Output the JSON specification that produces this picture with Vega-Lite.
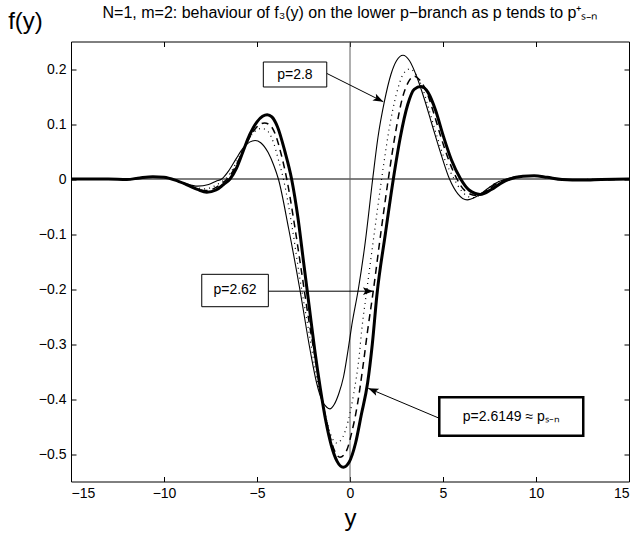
{
  "$schema": "https://vega.github.io/schema/vega-lite/v6.json",
  "autosize": "none",
  "width": 558,
  "height": 440,
  "padding": {"left": 71, "top": 41.5, "right": 13, "bottom": 59.5},
  "background": "white",
  "config": {
    "view": {"stroke": "black", "strokeWidth": 1},
    "font": "Liberation Sans",
    "axis": {"domainColor": "black", "tickColor": "black", "labelColor": "black", "labelFont": "Liberation Sans", "labelFontSize": 14, "grid": false, "tickSize": -5, "labelPadding": 10, "titleColor": "black", "titleFont": "Liberation Sans", "titleFontWeight": "normal"}
  },
  "title": {"text": "N=1, m=2: behaviour of f₃(y) on the lower p−branch as p tends to p⁺ₛ₋ₙ", "fontSize": 16, "fontWeight": "normal", "font": "Liberation Sans", "anchor": "middle", "offset": -11, "color": "black"},
  "datasets": {
    "thin": [
      {"x": -15, "y": 0}, {"x": -13, "y": 0}, {"x": -12, "y": 0}, {"x": -11.3, "y": 0.002}, {"x": -10.6, "y": 0.004}, {"x": -10, "y": 0.003}, {"x": -9.4, "y": -0.002}, {"x": -8.8, "y": -0.009}, {"x": -8.2, "y": -0.013}, {"x": -7.6, "y": -0.01}, {"x": -7.2, "y": -0.004}, {"x": -6.9, "y": 0}, {"x": -6.5, "y": 0.016}, {"x": -6.1, "y": 0.038}, {"x": -5.75, "y": 0.056}, {"x": -5.4, "y": 0.067}, {"x": -5.1, "y": 0.07}, {"x": -4.8, "y": 0.066}, {"x": -4.4, "y": 0.048}, {"x": -4.1, "y": 0.025}, {"x": -3.85, "y": 0}, {"x": -3.3, "y": -0.09}, {"x": -2.7, "y": -0.2}, {"x": -2.15, "y": -0.31}, {"x": -1.8, "y": -0.37}, {"x": -1.5, "y": -0.403}, {"x": -1.25, "y": -0.415}, {"x": -1.08, "y": -0.418}, {"x": -0.85, "y": -0.41}, {"x": -0.6, "y": -0.39}, {"x": -0.35, "y": -0.36}, {"x": -0.1, "y": -0.31}, {"x": 0.1, "y": -0.265}, {"x": 0.45, "y": -0.2}, {"x": 0.8, "y": -0.12}, {"x": 1.22, "y": 0}, {"x": 1.5, "y": 0.075}, {"x": 1.85, "y": 0.141}, {"x": 2.2, "y": 0.19}, {"x": 2.5, "y": 0.215}, {"x": 2.85, "y": 0.225}, {"x": 3.2, "y": 0.215}, {"x": 3.6, "y": 0.185}, {"x": 4.0, "y": 0.145}, {"x": 4.4, "y": 0.1}, {"x": 4.85, "y": 0.05}, {"x": 5.35, "y": 0}, {"x": 5.8, "y": -0.027}, {"x": 6.3, "y": -0.038}, {"x": 6.8, "y": -0.032}, {"x": 7.3, "y": -0.02}, {"x": 7.8, "y": -0.008}, {"x": 8.4, "y": 0}, {"x": 9.2, "y": 0.005}, {"x": 9.9, "y": 0.006}, {"x": 10.6, "y": 0.003}, {"x": 11.5, "y": -0.001}, {"x": 13, "y": -0.001}, {"x": 15, "y": 0}
    ],
    "dotted": [
      {"x": -15, "y": 0}, {"x": -13, "y": 0}, {"x": -12, "y": -0.001}, {"x": -11.3, "y": 0.002}, {"x": -10.6, "y": 0.004}, {"x": -10, "y": 0.003}, {"x": -9.4, "y": -0.002}, {"x": -8.8, "y": -0.01}, {"x": -8.2, "y": -0.016}, {"x": -7.8, "y": -0.018}, {"x": -7.3, "y": -0.013}, {"x": -6.9, "y": -0.005}, {"x": -6.7, "y": 0}, {"x": -6.3, "y": 0.018}, {"x": -5.9, "y": 0.045}, {"x": -5.5, "y": 0.07}, {"x": -5.1, "y": 0.087}, {"x": -4.75, "y": 0.092}, {"x": -4.4, "y": 0.086}, {"x": -4.1, "y": 0.065}, {"x": -3.85, "y": 0.035}, {"x": -3.58, "y": 0}, {"x": -3.1, "y": -0.09}, {"x": -2.7, "y": -0.18}, {"x": -2.3, "y": -0.26}, {"x": -1.9, "y": -0.34}, {"x": -1.55, "y": -0.4}, {"x": -1.25, "y": -0.44}, {"x": -1.0, "y": -0.468}, {"x": -0.72, "y": -0.48}, {"x": -0.4, "y": -0.47}, {"x": -0.1, "y": -0.44}, {"x": 0.2, "y": -0.39}, {"x": 0.5, "y": -0.32}, {"x": 0.63, "y": -0.275}, {"x": 0.9, "y": -0.203}, {"x": 1.3, "y": -0.1}, {"x": 1.7, "y": 0}, {"x": 2.1, "y": 0.09}, {"x": 2.5, "y": 0.155}, {"x": 2.85, "y": 0.19}, {"x": 3.2, "y": 0.2}, {"x": 3.55, "y": 0.19}, {"x": 3.9, "y": 0.165}, {"x": 4.3, "y": 0.12}, {"x": 4.7, "y": 0.075}, {"x": 5.1, "y": 0.035}, {"x": 5.6, "y": 0}, {"x": 6.0, "y": -0.022}, {"x": 6.6, "y": -0.034}, {"x": 7.2, "y": -0.024}, {"x": 7.7, "y": -0.01}, {"x": 8.4, "y": 0}, {"x": 9.2, "y": 0.005}, {"x": 9.9, "y": 0.006}, {"x": 10.6, "y": 0.003}, {"x": 11.5, "y": -0.001}, {"x": 15, "y": 0}
    ],
    "dashed": [
      {"x": -15, "y": 0}, {"x": -13, "y": 0}, {"x": -12, "y": -0.001}, {"x": -11.3, "y": 0.002}, {"x": -10.6, "y": 0.004}, {"x": -10, "y": 0.003}, {"x": -9.4, "y": -0.002}, {"x": -8.8, "y": -0.01}, {"x": -8.2, "y": -0.018}, {"x": -7.8, "y": -0.021}, {"x": -7.3, "y": -0.017}, {"x": -6.9, "y": -0.008}, {"x": -6.6, "y": 0}, {"x": -6.2, "y": 0.02}, {"x": -5.8, "y": 0.048}, {"x": -5.4, "y": 0.075}, {"x": -5.0, "y": 0.095}, {"x": -4.6, "y": 0.102}, {"x": -4.3, "y": 0.098}, {"x": -4.0, "y": 0.08}, {"x": -3.7, "y": 0.045}, {"x": -3.4, "y": 0}, {"x": -3.0, "y": -0.08}, {"x": -2.6, "y": -0.17}, {"x": -2.2, "y": -0.26}, {"x": -1.85, "y": -0.33}, {"x": -1.5, "y": -0.4}, {"x": -1.2, "y": -0.45}, {"x": -0.9, "y": -0.488}, {"x": -0.54, "y": -0.506}, {"x": -0.2, "y": -0.495}, {"x": 0.1, "y": -0.46}, {"x": 0.4, "y": -0.41}, {"x": 0.7, "y": -0.34}, {"x": 0.95, "y": -0.275}, {"x": 1.25, "y": -0.204}, {"x": 1.65, "y": -0.1}, {"x": 2.06, "y": 0}, {"x": 2.45, "y": 0.085}, {"x": 2.8, "y": 0.145}, {"x": 3.15, "y": 0.177}, {"x": 3.45, "y": 0.187}, {"x": 3.75, "y": 0.18}, {"x": 4.1, "y": 0.16}, {"x": 4.5, "y": 0.12}, {"x": 4.9, "y": 0.075}, {"x": 5.3, "y": 0.035}, {"x": 5.75, "y": 0}, {"x": 6.2, "y": -0.022}, {"x": 6.8, "y": -0.03}, {"x": 7.4, "y": -0.02}, {"x": 7.9, "y": -0.008}, {"x": 8.5, "y": 0}, {"x": 9.2, "y": 0.005}, {"x": 9.9, "y": 0.006}, {"x": 10.6, "y": 0.003}, {"x": 11.5, "y": -0.001}, {"x": 12.5, "y": -0.002}, {"x": 15, "y": 0}
    ],
    "thick": [
      {"x": -15, "y": 0}, {"x": -14, "y": 0}, {"x": -13, "y": 0}, {"x": -12, "y": -0.001}, {"x": -11.3, "y": 0.002}, {"x": -10.6, "y": 0.004}, {"x": -10, "y": 0.003}, {"x": -9.4, "y": -0.002}, {"x": -8.8, "y": -0.01}, {"x": -8.2, "y": -0.019}, {"x": -7.7, "y": -0.024}, {"x": -7.2, "y": -0.02}, {"x": -6.8, "y": -0.01}, {"x": -6.45, "y": 0}, {"x": -6.1, "y": 0.02}, {"x": -5.75, "y": 0.05}, {"x": -5.4, "y": 0.08}, {"x": -5.0, "y": 0.104}, {"x": -4.7, "y": 0.114}, {"x": -4.45, "y": 0.117}, {"x": -4.2, "y": 0.113}, {"x": -3.9, "y": 0.095}, {"x": -3.5, "y": 0.05}, {"x": -3.14, "y": 0}, {"x": -2.8, "y": -0.07}, {"x": -2.5, "y": -0.15}, {"x": -2.2, "y": -0.23}, {"x": -1.9, "y": -0.31}, {"x": -1.6, "y": -0.38}, {"x": -1.3, "y": -0.44}, {"x": -1.0, "y": -0.485}, {"x": -0.7, "y": -0.513}, {"x": -0.36, "y": -0.524}, {"x": -0.05, "y": -0.515}, {"x": 0.3, "y": -0.48}, {"x": 0.6, "y": -0.43}, {"x": 0.95, "y": -0.37}, {"x": 1.2, "y": -0.3}, {"x": 1.45, "y": -0.21}, {"x": 1.9, "y": -0.1}, {"x": 2.33, "y": 0}, {"x": 2.7, "y": 0.075}, {"x": 3.1, "y": 0.135}, {"x": 3.45, "y": 0.163}, {"x": 3.82, "y": 0.168}, {"x": 4.2, "y": 0.157}, {"x": 4.6, "y": 0.125}, {"x": 5.0, "y": 0.08}, {"x": 5.45, "y": 0.035}, {"x": 5.95, "y": 0}, {"x": 6.4, "y": -0.02}, {"x": 7.0, "y": -0.028}, {"x": 7.6, "y": -0.019}, {"x": 8.1, "y": -0.008}, {"x": 8.6, "y": 0}, {"x": 9.3, "y": 0.005}, {"x": 9.9, "y": 0.006}, {"x": 10.6, "y": 0.003}, {"x": 11.4, "y": -0.001}, {"x": 12.5, "y": -0.002}, {"x": 13.5, "y": -0.001}, {"x": 15, "y": 0}
    ],
    "boxes": [
      {"x": -4.66, "x2": -1.25, "y": 0.2127, "y2": 0.1673, "label": "p=2.8", "tx": -2.96, "ty": 0.19},
      {"x": -7.97, "x2": -4.39, "y": -0.1733, "y2": -0.2322, "label": "p=2.62", "tx": -6.18, "ty": -0.2027}
    ],
    "box3": [
      {"x": 4.8, "x2": 12.54, "y": -0.397, "y2": -0.467, "label": "p=2.6149 ≈ pₛ₋ₙ", "tx": 8.67, "ty": -0.432}
    ],
    "arrows": [
      {"x": -1.25, "y": 0.192, "x2": 1.79, "y2": 0.1405},
      {"x": -4.39, "y": -0.204, "x2": 1.25, "y2": -0.204},
      {"x": 4.8, "y": -0.435, "x2": 0.98, "y2": -0.3805}
    ],
    "head1": [{"x": 1.79, "y": 0.1405}],
    "head2": [{"x": 1.25, "y": -0.204}],
    "head3": [{"x": 0.98, "y": -0.3805}],
    "zero": [{"v": 0}]
  },
  "resolve": {"axis": {"x": "independent", "y": "independent"}},
  "layer": [
    {
      "data": {"name": "zero"},
      "mark": {"type": "rule", "color": "black", "strokeWidth": 1},
      "encoding": {"y": {"field": "v", "type": "quantitative", "scale": {"domain": [-0.55, 0.25], "nice": false, "zero": false}, "axis": {"orient": "left", "values": [-0.5, -0.4, -0.3, -0.2, -0.1, 0, 0.1, 0.2], "format": "~g", "title": "f(y)", "titleAngle": 0, "titleFontSize": 24, "titleAlign": "center", "titleBaseline": "middle", "titleX": -46, "titleY": -20, "domain": false}}}
    },
    {
      "data": {"name": "zero"},
      "mark": {"type": "rule", "color": "#606060", "strokeWidth": 1},
      "encoding": {"x": {"field": "v", "type": "quantitative", "scale": {"domain": [-15, 15], "nice": false, "zero": false}, "axis": {"orient": "bottom", "values": [-15, -10, -5, 0, 5, 10, 15], "title": "y", "titleFontSize": 24, "titlePadding": 6, "domain": false}}}
    },
    {
      "data": {"name": "thin"},
      "mark": {"type": "line", "color": "black", "strokeWidth": 1.1, "interpolate": "monotone"},
      "encoding": {
        "x": {"field": "x", "type": "quantitative", "axis": {"orient": "top", "values": [-15, -10, -5, 0, 5, 10, 15], "labels": false, "title": null, "domain": false}},
        "y": {"field": "y", "type": "quantitative", "axis": {"orient": "right", "values": [-0.5, -0.4, -0.3, -0.2, -0.1, 0, 0.1, 0.2], "labels": false, "title": null, "domain": false}}
      }
    },
    {
      "data": {"name": "dotted"},
      "mark": {"type": "line", "color": "black", "strokeWidth": 1.2, "strokeDash": [1, 4], "interpolate": "monotone"},
      "encoding": {"x": {"field": "x", "type": "quantitative", "axis": null}, "y": {"field": "y", "type": "quantitative", "axis": null}}
    },
    {
      "data": {"name": "dashed"},
      "mark": {"type": "line", "color": "black", "strokeWidth": 1.5, "strokeDash": [7, 5], "interpolate": "monotone"},
      "encoding": {"x": {"field": "x", "type": "quantitative", "axis": null}, "y": {"field": "y", "type": "quantitative", "axis": null}}
    },
    {
      "data": {"name": "thick"},
      "mark": {"type": "line", "color": "black", "strokeWidth": 3, "interpolate": "monotone"},
      "encoding": {"x": {"field": "x", "type": "quantitative", "axis": null}, "y": {"field": "y", "type": "quantitative", "axis": null}}
    },
    {
      "data": {"name": "arrows"},
      "mark": {"type": "rule", "color": "black", "strokeWidth": 1},
      "encoding": {"x": {"field": "x", "type": "quantitative", "axis": null}, "y": {"field": "y", "type": "quantitative", "axis": null}, "x2": {"field": "x2"}, "y2": {"field": "y2"}}
    },
    {
      "data": {"name": "head1"},
      "mark": {"type": "point", "shape": "M0,0 L-1,-0.38 L-0.78,0 L-1,0.38 Z", "size": 420, "filled": true, "color": "black", "opacity": 1, "angle": 26.6},
      "encoding": {"x": {"field": "x", "type": "quantitative", "axis": null}, "y": {"field": "y", "type": "quantitative", "axis": null}}
    },
    {
      "data": {"name": "head2"},
      "mark": {"type": "point", "shape": "M0,0 L-1,-0.38 L-0.78,0 L-1,0.38 Z", "size": 420, "filled": true, "color": "black", "opacity": 1, "angle": 0},
      "encoding": {"x": {"field": "x", "type": "quantitative", "axis": null}, "y": {"field": "y", "type": "quantitative", "axis": null}}
    },
    {
      "data": {"name": "head3"},
      "mark": {"type": "point", "shape": "M0,0 L-1,-0.38 L-0.78,0 L-1,0.38 Z", "size": 420, "filled": true, "color": "black", "opacity": 1, "angle": 202.9},
      "encoding": {"x": {"field": "x", "type": "quantitative", "axis": null}, "y": {"field": "y", "type": "quantitative", "axis": null}}
    },
    {
      "data": {"name": "boxes"},
      "mark": {"type": "rect", "fill": "white", "stroke": "black", "strokeWidth": 1},
      "encoding": {"x": {"field": "x", "type": "quantitative", "axis": null}, "x2": {"field": "x2"}, "y": {"field": "y", "type": "quantitative", "axis": null}, "y2": {"field": "y2"}}
    },
    {
      "data": {"name": "box3"},
      "mark": {"type": "rect", "fill": "white", "stroke": "black", "strokeWidth": 2.5},
      "encoding": {"x": {"field": "x", "type": "quantitative", "axis": null}, "x2": {"field": "x2"}, "y": {"field": "y", "type": "quantitative", "axis": null}, "y2": {"field": "y2"}}
    },
    {
      "data": {"name": "boxes"},
      "mark": {"type": "text", "font": "Liberation Sans", "fontSize": 14, "color": "black", "align": "center", "baseline": "middle"},
      "encoding": {"x": {"field": "tx", "type": "quantitative", "axis": null}, "y": {"field": "ty", "type": "quantitative", "axis": null}, "text": {"field": "label"}}
    },
    {
      "data": {"name": "box3"},
      "mark": {"type": "text", "font": "Liberation Sans", "fontSize": 14, "color": "black", "align": "center", "baseline": "middle"},
      "encoding": {"x": {"field": "tx", "type": "quantitative", "axis": null}, "y": {"field": "ty", "type": "quantitative", "axis": null}, "text": {"field": "label"}}
    }
  ]
}
